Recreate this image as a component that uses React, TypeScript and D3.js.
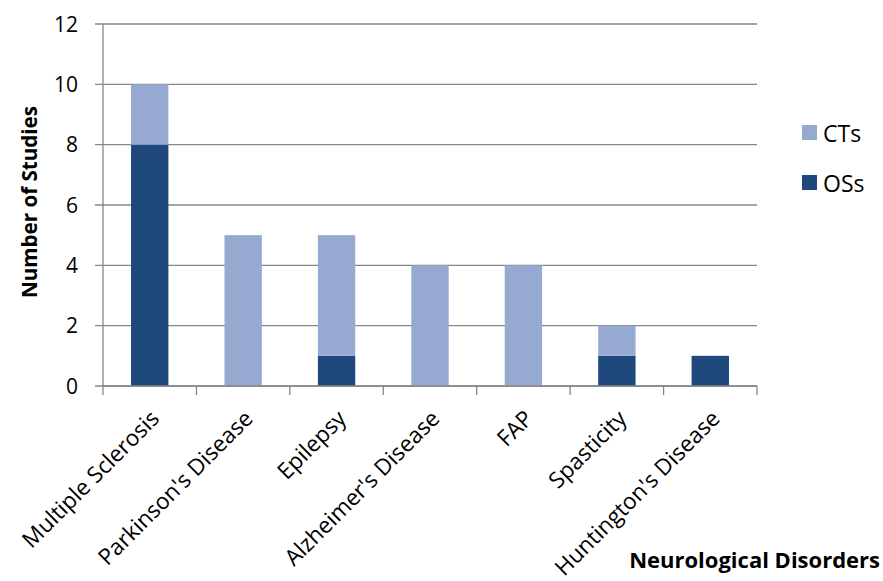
import React from "react";
import * as d3 from "d3";

const categories = [
  "Multiple Sclerosis",
  "Parkinson's Disease",
  "Epilepsy",
  "Alzheimer's Disease",
  "FAP",
  "Spasticity",
  "Huntington's Disease",
];
const osValues = [8, 0, 1, 0, 0, 1, 1];
const ctValues = [2, 5, 4, 4, 4, 1, 0];
const seriesNames = ["CTs", "OSs"];
const yTicks = [0, 2, 4, 6, 8, 10, 12];

const W = 883;
const H = 581;
const FONT = "'Open Sans', sans-serif";
const CT_COLOR = "#95A9D1";
const OS_COLOR = "#1F497D";
const AXIS = "#878787";

export default function App() {
  const x = d3.scaleBand<string>().domain(categories).range([103, 757]).padding(0);
  const y = d3.scaleLinear().domain([0, 12]).range([386, 24]);
  const barW = x.bandwidth() * 0.4;

  const rows = categories.map((c, i) => ({ cat: c, OSs: osValues[i], CTs: ctValues[i] }));
  const stack = d3.stack<any>().keys(["OSs", "CTs"])(rows);
  const colors: Record<string, string> = { OSs: OS_COLOR, CTs: CT_COLOR };

  return (
    <svg width={W} height={H} style={{ position: "absolute", left: 0, top: 0 }}>
      <rect width={W} height={H} fill="#fff" />
      {yTicks.map((t) => (
        <g key={t}>
          <line x1={95} x2={757} y1={y(t)} y2={y(t)} stroke={AXIS} strokeWidth={1.3} />
          <text x={78} y={y(t)} dy="0.36em" textAnchor="end" fontFamily={FONT} fontSize={21} fill="#000">
            {t}
          </text>
        </g>
      ))}
      {stack.map((s) =>
        s.map((d, i) =>
          d[1] - d[0] > 0 ? (
            <rect
              key={s.key + i}
              x={(x(categories[i]) as number) + (x.bandwidth() - barW) / 2}
              y={y(d[1])}
              width={barW}
              height={y(d[0]) - y(d[1])}
              fill={colors[s.key]}
            />
          ) : null
        )
      )}
      <line x1={103} x2={103} y1={24} y2={386} stroke={AXIS} strokeWidth={1.3} />
      <line x1={103} x2={757} y1={386} y2={386} stroke={AXIS} strokeWidth={1.3} />
      {categories.concat([""]).map((c, i) => {
        const xx = 103 + i * x.step();
        return <line key={"t" + i} x1={xx} x2={xx} y1={386} y2={395} stroke={AXIS} strokeWidth={1.3} />;
      })}
      {categories.map((c) => {
        const cx = (x(c) as number) + x.bandwidth() / 2;
        return (
          <text
            key={c}
            transform={`translate(${cx + 11},${420}) rotate(-45)`}
            textAnchor="end"
            fontFamily={FONT}
            fontSize={22.5}
            fill="#000"
          >
            {c}
          </text>
        );
      })}
      <text
        transform="translate(37,202) rotate(-90)"
        textAnchor="middle"
        fontFamily={FONT}
        fontWeight="bold"
        fontSize={20.6}
        fill="#000"
      >
        Number of Studies
      </text>
      <text x={880} y={568} textAnchor="end" fontFamily={FONT} fontWeight="bold" fontSize={22} fill="#000">
        Neurological Disorders
      </text>
      {seriesNames.map((n, i) => (
        <g key={n} transform={`translate(802,${125 + i * 50})`}>
          <rect width={15} height={15} fill={colors[n]} />
          <text x={21} y={17} fontFamily={FONT} fontSize={23} fill="#000">
            {n}
          </text>
        </g>
      ))}
    </svg>
  );
}
